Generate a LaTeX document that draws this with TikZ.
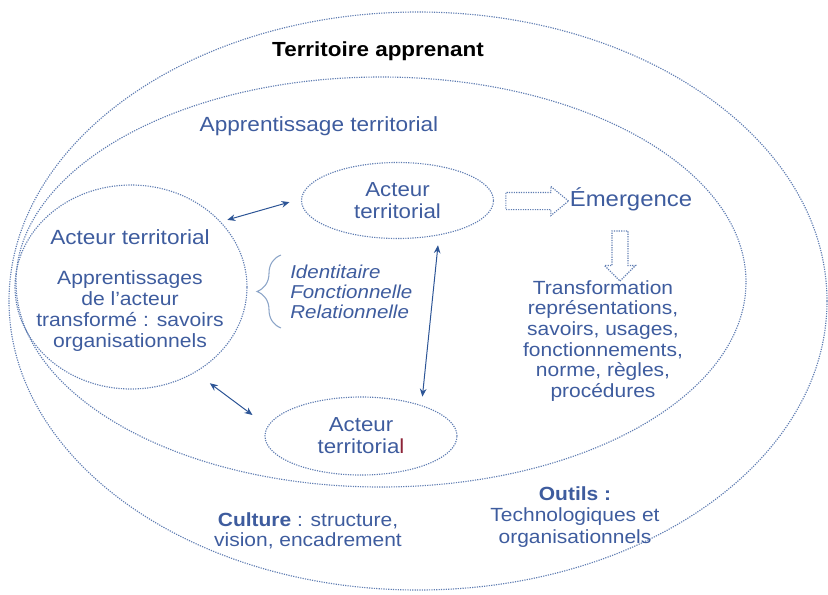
\documentclass[tikz,border=0pt]{standalone}
\usepackage{fontspec}
\setmainfont{Liberation Sans}[FakeStretch=1.1]
\usetikzlibrary{arrows.meta,shapes.geometric,shapes.arrows,decorations.pathreplacing}
\definecolor{bleutexte}{RGB}{62,92,158}
\definecolor{bleutrait}{RGB}{95,125,178}
\definecolor{bleufleche}{RGB}{45,85,150}
\definecolor{bleuaccolade}{RGB}{140,165,200}
\definecolor{rougel}{RGB}{140,35,55}

\begin{document}
\begin{tikzpicture}[x=0.75pt, y=-0.75pt, >={Stealth[length=6pt,width=5pt]},
      zone/.style={draw=bleutrait, ellipse, dash pattern=on 0.9pt off 0.9pt, line width=0.85pt, inner sep=0pt},
      acteur/.style={zone, align=center, text=bleutexte, font=\fontsize{15.2}{16.5}\selectfont, minimum width=144pt},
      texte/.style={align=center, text=bleutexte, inner sep=0pt, font=\fontsize{14.3}{15.5}\selectfont},
      fleche/.style={draw=bleutrait, dash pattern=on 0.9pt off 0.9pt, line width=0.85pt, single arrow},
      lien/.style={<->, bleufleche, line width=0.75pt},
      accolade/.style={decorate, decoration={brace, amplitude=18pt}, draw=bleuaccolade, line width=0.8pt}]
      \useasboundingbox (0,0) rectangle (828,594);
      \node[zone, minimum width=613.5pt, minimum height=433.5pt] (territoire) at (418,301) {};
      \node[zone, minimum width=547.5pt, minimum height=307.5pt] (apprentissage) at (381,282) {};
      \node[zone, minimum width=174pt, minimum height=153pt] (acteurG) at (131,287) {};
      \node[acteur, minimum height=57pt] (acteurH) at (397.5,200.5) {Acteur\\territorial};
      \node[acteur, minimum height=58.5pt] (acteurB) at (361,436) {Acteur\\territoria\textcolor{rougel}{l}};
      \node[font=\bfseries\fontsize{15.3}{18}\selectfont, inner sep=0pt] (titre) at (378,51) {Territoire apprenant};
      \node[texte, font=\fontsize{15.4}{17}\selectfont] (apprTitre) at (319,126) {Apprentissage territorial};
      \node[texte, font=\fontsize{15.4}{17}\selectfont] (acteurGtitre) at (130,237) {Acteur territorial};
      \node[texte, font=\fontsize{14.4}{15.75}\selectfont] (savoirsAct) at (130,311) {Apprentissages\\de l'acteur\\transformé : savoirs\\organisationnels};
      \node[texte, align=left, anchor=west, font=\itshape\fontsize{14}{15}\selectfont] (relations) at (290,292) {Identitaire\\Fonctionnelle\\Relationnelle};
      \node[fleche, inner sep=6pt, minimum height=47pt, single arrow head extend=4.5pt, single arrow tip angle=79] (flecheE) at (532,201) {};
      \node[texte, font=\fontsize{16.3}{18}\selectfont] (emergence) at (631,199) {Émergence};
      \node[fleche, inner sep=5.6pt, minimum height=37.5pt, single arrow head extend=5.6pt, single arrow tip angle=90, shape border rotate=270] (flecheT) at (620,252) {};
      \node[texte] (transfo) at (603,341) {Transformation\\représentations,\\savoirs, usages,\\fonctionnements,\\norme, règles,\\procédures};
      \node[texte, font=\fontsize{14.3}{15}\selectfont] (culture) at (308,531) {\textbf{Culture} : structure,\\vision, encadrement};
      \node[texte, font=\fontsize{14.3}{16}\selectfont] (outils) at (575,517) {\textbf{Outils :}\\Technologiques et\\organisationnels};
      \draw[lien, shorten <=5pt, shorten >=9pt] (acteurG.36) -- (acteurH.179);
      \draw[lien, shorten <=7.5pt, shorten >=6.4pt] (acteurH.-40) -- (acteurB.27);
      \draw[lien, shorten <=13.5pt, shorten >=14pt] (acteurG.-53) -- (acteurB.174.5);
      \draw[accolade] (281,328) -- (281,255);
    \end{tikzpicture}
\end{document}
